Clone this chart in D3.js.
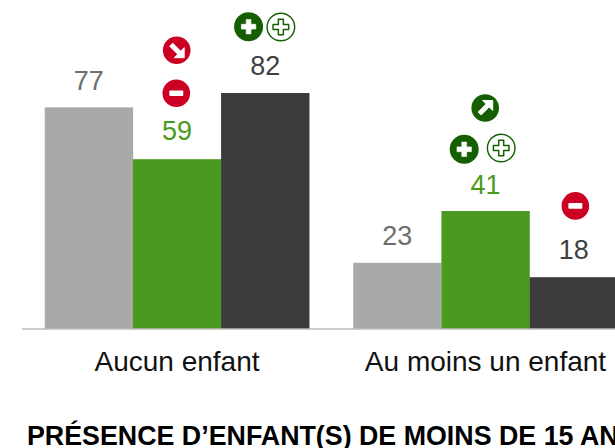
<!DOCTYPE html>
<html><head><meta charset="utf-8">
<script src="https://cdnjs.cloudflare.com/ajax/libs/d3/7.8.5/d3.min.js"></script>
<style>html,body{margin:0;padding:0;background:#fff;overflow:hidden}svg{display:block}text{font-family:"Liberation Sans",Arial,sans-serif}</style>
</head><body><svg id="c" width="615" height="448"></svg>
<script>
const categories = ["Aucun enfant", "Au moins un enfant"];
const seriesNames = ["a", "b", "c"];
const seriesA = [77, 23];
const seriesB = [59, 41];
const seriesC = [82, 18];
const title = "PRÉSENCE D’ENFANT(S) DE MOINS DE 15 ANS";
const fills = ["#a9a9a9", "#4b9a20", "#3b3b3b"];
const labelFills = ["#6e6e6e", "#4b9a20", "#3f3f3f"];
const GREEN = "#155f02", RED = "#cc0022";

const W = 615, H = 448, baseY = 329;
const svg = d3.select("#c");
const x = d3.scaleBand().domain(categories).range([22.75, 639.75]).paddingInner(0.1426).paddingOuter(0.0713);
const xs = d3.scaleBand().domain(seriesNames).range([0, x.bandwidth()]);
const y = d3.scaleLinear().domain([0, 82]).range([baseY, 93]);
const rows = categories.flatMap((c, i) => [seriesA[i], seriesB[i], seriesC[i]].map((v, j) => ({c, i, j, v, s: seriesNames[j]})));

svg.append("g").selectAll("rect").data(rows).join("rect")
  .attr("x", d => x(d.c) + xs(d.s)).attr("width", xs.bandwidth() + 0.2)
  .attr("y", d => y(d.v)).attr("height", d => baseY - y(d.v)).attr("fill", d => fills[d.j]);

const labelGap = d => (d.j === 1 ? (d.i === 0 ? 19 : 17) : d.j === 0 && d.i === 0 ? 17.5 : 18);
svg.append("g").selectAll("text").data(rows).join("text")
  .attr("x", d => x(d.c) + xs(d.s) + xs.bandwidth() / 2).attr("y", d => y(d.v) - labelGap(d))
  .attr("text-anchor", "middle").attr("font-size", 27).attr("fill", d => labelFills[d.j]).text(d => d.v);

const axis = d3.axisBottom(x).tickSize(0).tickPadding(22);
const ax = svg.append("g").attr("transform", `translate(0,${baseY})`).call(axis);
ax.select(".domain").remove();
ax.selectAll("text").attr("font-size", 28).attr("fill", "#111").attr("font-family", '"Liberation Sans",Arial,sans-serif');
svg.append("line").attr("x1", 22).attr("x2", W).attr("y1", baseY).attr("y2", baseY).attr("stroke", "#bdbdbd").attr("stroke-width", 1.5);

svg.append("text").attr("x", 27).attr("y", 444.5).attr("font-size", 26.8).attr("font-weight", 700).attr("fill", "#000").text(title);

// icons anchored to their bar: [category index, series index, kind, dx, dy above bar top]
const icons = [
  [0, 1, "down", -0.3, 109], [0, 1, "minus", -0.7, 66],
  [0, 2, "plus", -16.6, 66.3], [0, 2, "plusO", 15.7, 66],
  [1, 1, "up", -0.3, 103], [1, 1, "plus", -21.3, 61.7], [1, 1, "plusO", 15.7, 63],
  [1, 2, "minus", 1.7, 71.3]
];
const val = [seriesA, seriesB, seriesC];
const plusPath = (a, b) => `M${-b},${-a}H${b}V${-b}H${a}V${b}H${b}V${a}H${-b}V${b}H${-a}V${-b}H${-b}Z`;
icons.forEach(([ci, si, kind, dx, dy]) => {
  const cx = x(categories[ci]) + xs(seriesNames[si]) + xs.bandwidth() / 2 + dx;
  const cy = y(val[si][ci]) - dy;
  const g = svg.append("g").attr("transform", `translate(${cx},${cy})`);
  if (kind === "plusO") {
    g.append("circle").attr("r", 13.8).attr("fill", "#fff").attr("stroke", GREEN).attr("stroke-width", 1.4);
    g.append("path").attr("d", plusPath(7.8, 2.5)).attr("fill", "#fff").attr("stroke", GREEN).attr("stroke-width", 1.5).attr("stroke-linejoin", "round");
  } else if (kind === "plus") {
    g.append("circle").attr("r", 14.5).attr("fill", GREEN);
    g.append("path").attr("d", plusPath(7.2, 2.4)).attr("fill", "#fff").attr("stroke", "#fff").attr("stroke-width", 0.6).attr("stroke-linejoin", "round");
  } else if (kind === "minus") {
    g.append("circle").attr("r", 13.8).attr("fill", RED);
    g.append("rect").attr("x", -7).attr("y", -2.8).attr("width", 14).attr("height", 5.6).attr("rx", 1).attr("fill", "#fff");
  } else {
    const col = kind === "up" ? GREEN : RED;
    g.append("circle").attr("r", 13.8).attr("fill", col);
    const a = g.append("g").attr("transform", kind === "up" ? null : "rotate(90)");
    a.append("path").attr("d", "M-2.5,-7.5H7.5V2.5L4,-1L-4,7L-7,4L1,-4Z").attr("fill", "#fff").attr("stroke", "#fff").attr("stroke-width", 1).attr("stroke-linejoin", "round");
  }
});
</script></body></html>
